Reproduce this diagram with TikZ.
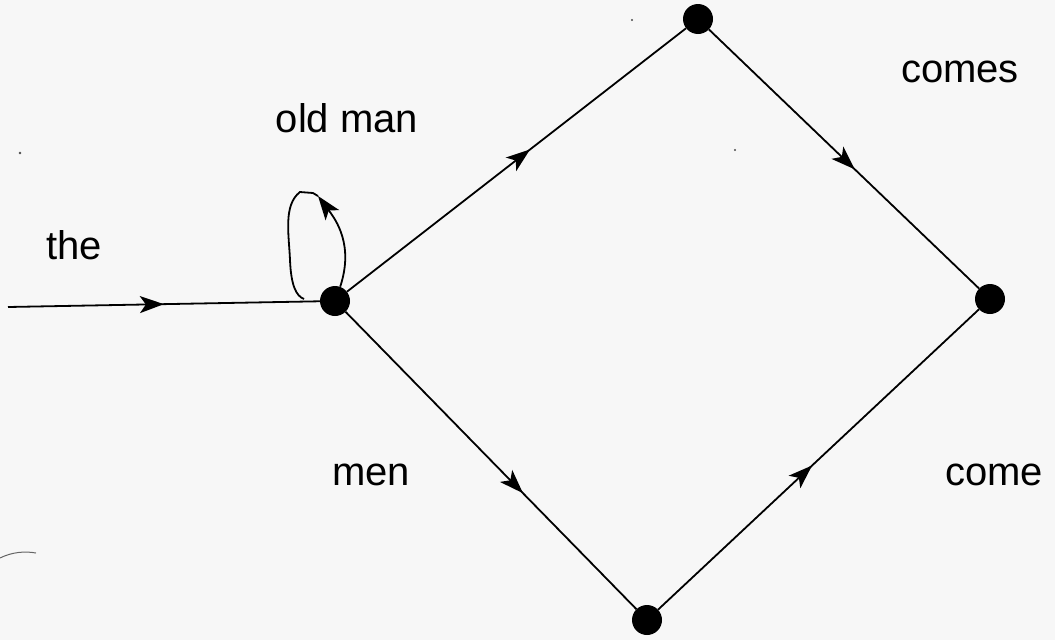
\documentclass[tikz,border=0pt]{standalone}
\usepackage{fontspec}
\setmainfont{Liberation Sans}
\usetikzlibrary{arrows.meta,decorations.markings}
\tikzset{
  dot/.style={circle,fill=black,minimum size=30pt,inner sep=0pt},
  edge/.style={line width=1.8pt,black},
  tip/.tip={Stealth[length=24pt,width=17pt,inset=6pt]},
  midarrow/.style={postaction={decorate},decoration={markings,
     mark=at position #1 with {\arrow{tip}}}},
  lbl/.style={font=\fontsize{40}{48}\selectfont,inner sep=0pt}
}
\begin{document}
\begin{tikzpicture}[x=1pt,y=-1pt]
\fill[white!97!black] (0,0) rectangle (1055,640);
\useasboundingbox (0,0) rectangle (1055,640);
\node[dot] (A) at (335,301) {};
\node[dot] (B) at (698,19) {};
\node[dot] (C) at (990,299) {};
\node[dot] (D) at (647,620) {};
\coordinate (S) at (8,307);
\coordinate (L1) at (318,196);
\coordinate (L2) at (300,192);
\coordinate (L3) at (304,299);
\draw[edge,midarrow=0.5] (S) -- (A);
\draw[edge,midarrow=0.54] (A) -- (B);
\draw[edge,midarrow=0.54] (B) -- (C);
\draw[edge,midarrow=0.61] (A) -- (D);
\draw[edge,midarrow=0.48] (D) -- (C);
\draw[edge,-{tip}] (A.70) .. controls (354,245) and (336,220) .. (L1);
\draw[edge] (L1) -- (313,193) -- (L2) .. controls (283,205) and (289,235) .. (290,260) .. controls (291,285) and (296,296) .. (L3);
\node[lbl] (t1) at (74,245) {the};
\node[lbl] (t2) at (347,118) {old man};
\node[lbl] (t3) at (960,72) {comes};
\node[lbl] (t4) at (371,475) {men};
\node[lbl] (t5) at (994,475) {come};
\draw[line width=1pt,black!60] (0,558) .. controls (12,552) and (25,551) .. (36,553);
\fill[black!70] (20,153) circle (1.3pt);
\fill[black!70] (632,20) circle (1.2pt);
\fill[black!70] (735,150) circle (1.2pt);
\end{tikzpicture}
\end{document}
